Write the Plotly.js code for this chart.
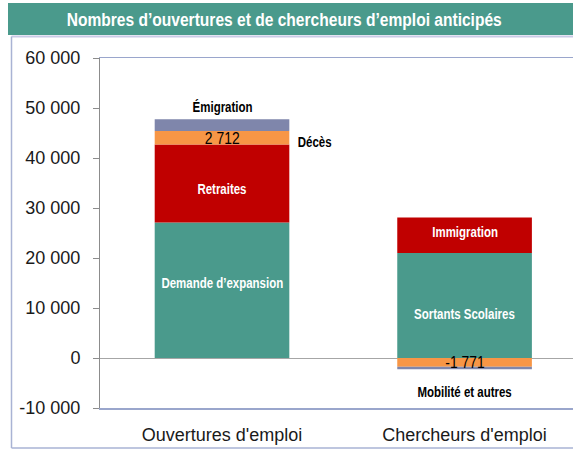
<!DOCTYPE html>
<html>
<head>
<meta charset="utf-8">
<script src="https://cdn.plot.ly/plotly-3.0.1.min.js"></script>
<style>
html,body{margin:0;padding:0;background:#fff;}
#chart{width:573px;height:450px;}
#chart .annotation-text, #chart .gtitle {
  transform-box: fill-box; transform-origin: center; transform: scaleX(0.82);
}
</style>
</head>
<body>
<div id="chart"></div>
<script>
// ---- data ----
const categories = ["Ouvertures d'emploi", "Chercheurs d'emploi"];
const baseValues   = [27100, 21000];   // Demande d'expansion / Sortants Scolaires
const secondValues = [15600, 7100];    // Retraites / Immigration
const thirdValues  = [2712, -1771];    // Décès / Mobilité
const fourthValues = [2350, -480];     // Émigration / autres
const baseLabels   = ["Demande d\u2019expansion", "Sortants Scolaires"];
const secondLabels = ["Retraites", "Immigration"];
const tickVals   = [-10000, 0, 10000, 20000, 30000, 40000, 50000, 60000];
const tickLabels = ["-10 000", "0", "10 000", "20 000", "30 000", "40 000", "50 000", "60 000"];
const titleText = "Nombres d\u2019ouvertures et de chercheurs d\u2019emploi anticip\u00e9s";

const TEAL = '#4a9a8c', RED = '#c00000', ORANGE = '#f79646', SLATE = '#7f86ab';
const ARIAL = 'Liberation Sans, Arial, sans-serif';

function fmt(v) {
  const s = Math.abs(v).toString().replace(/\B(?=(\d{3})+(?!\d))/g, ' ');
  return (v < 0 ? '-' : '') + s;
}

const traces = [
  {x: categories, y: baseValues, marker: {color: TEAL}},
  {x: categories, y: secondValues, marker: {color: RED}},
  {x: categories, y: thirdValues, marker: {color: ORANGE}},
  {x: categories, y: fourthValues, marker: {color: SLATE}}
].map(t => Object.assign({type: 'bar', hoverinfo: 'skip', showlegend: false}, t));

const ann = [];
const whiteFont = {family: ARIAL, size: 14, color: '#ffffff', weight: 'bold'};
const blackBold = {family: ARIAL, size: 14, color: '#000000', weight: 'bold'};
const numFont = {family: ARIAL, size: 17, color: '#000000'};
const shiftsBase = [7, -8];
const shiftsSecond = [-5, 3];
for (let i = 0; i < categories.length; i++) {
  ann.push({x: categories[i], y: baseValues[i] / 2, text: baseLabels[i],
    showarrow: false, font: whiteFont, yshift: shiftsBase[i]});
  ann.push({x: categories[i], y: baseValues[i] + secondValues[i] / 2, text: secondLabels[i],
    showarrow: false, font: whiteFont, yshift: shiftsSecond[i]});
}
const c0mid3 = baseValues[0] + secondValues[0] + thirdValues[0] / 2;
ann.push({x: categories[0], y: c0mid3, text: fmt(thirdValues[0]), showarrow: false,
  font: numFont, yshift: -1});
ann.push({x: categories[0], y: c0mid3, text: 'D\u00e9c\u00e8s', showarrow: false,
  font: blackBold, xanchor: 'left', xshift: 70, yshift: -4});
const c0total = baseValues[0] + secondValues[0] + thirdValues[0] + fourthValues[0];
ann.push({x: categories[0], y: c0total, text: '\u00c9migration', showarrow: false,
  font: blackBold, yanchor: 'bottom', yshift: 2});
ann.push({x: categories[1], y: thirdValues[1] / 2, text: fmt(thirdValues[1]), showarrow: false,
  font: numFont, yshift: 0});
ann.push({x: categories[1], y: thirdValues[1] + fourthValues[1], text: 'Mobilit\u00e9 et autres', showarrow: false,
  font: blackBold, yanchor: 'middle', yshift: -23});

const FRAME = '#a9b3d4';
const shapes = [
  {type: 'rect', xref: 'paper', yref: 'paper', x0: -0.1945, x1: 1.02, y0: 1.0657, y1: 1.157,
   fillcolor: TEAL, line: {width: 0}, layer: 'below'},
  {type: 'line', xref: 'paper', yref: 'paper', x0: -0.1871, x1: 1.02, y0: 1.0614, y1: 1.0614,
   line: {color: '#c9c9e6', width: 2}},
  {type: 'line', xref: 'paper', yref: 'paper', x0: -0.1871, x1: -0.1871, y0: 1.0614, y1: -0.1143,
   line: {color: FRAME, width: 1.5}},
  {type: 'line', xref: 'paper', yref: 'paper', x0: -0.1871, x1: 1.02, y0: -0.1143, y1: -0.1143,
   line: {color: FRAME, width: 1.5}}
];

const layout = {
  width: 573, height: 450,
  margin: {l: 100, r: 0, t: 58, b: 42, pad: 0},
  paper_bgcolor: '#ffffff', plot_bgcolor: '#ffffff',
  barmode: 'relative', bargap: 0.445,
  title: {text: '<b>' + titleText + '</b>', x: 0.496, xref: 'container', xanchor: 'center',
    y: 0.958, yref: 'container', yanchor: 'middle',
    font: {family: ARIAL, size: 19, color: '#ffffff', weight: 'bold'}},
  xaxis: {type: 'category', range: [-0.503, 1.447], showline: true, linecolor: '#9aa6cc', linewidth: 1.5,
    mirror: true, ticks: '', showgrid: false, zeroline: false,
    tickfont: {family: ARIAL, size: 18, color: '#1a1a1a'}, ticklabelstandoff: 10},
  yaxis: {range: [-10000, 60000], tickvals: tickVals, ticktext: tickLabels, showline: true,
    linecolor: '#8c8c8c', linewidth: 1, ticks: 'outside', ticklen: 6, tickcolor: '#8c8c8c',
    showgrid: false, zeroline: true, zerolinecolor: '#a6a6a6', zerolinewidth: 1,
    tickfont: {family: ARIAL, size: 18, color: '#1a1a1a'}, ticklabelstandoff: 9},
  annotations: ann,
  shapes: shapes
};

Plotly.newPlot('chart', traces, layout, {displayModeBar: false, staticPlot: true});
</script>
</body>
</html>
